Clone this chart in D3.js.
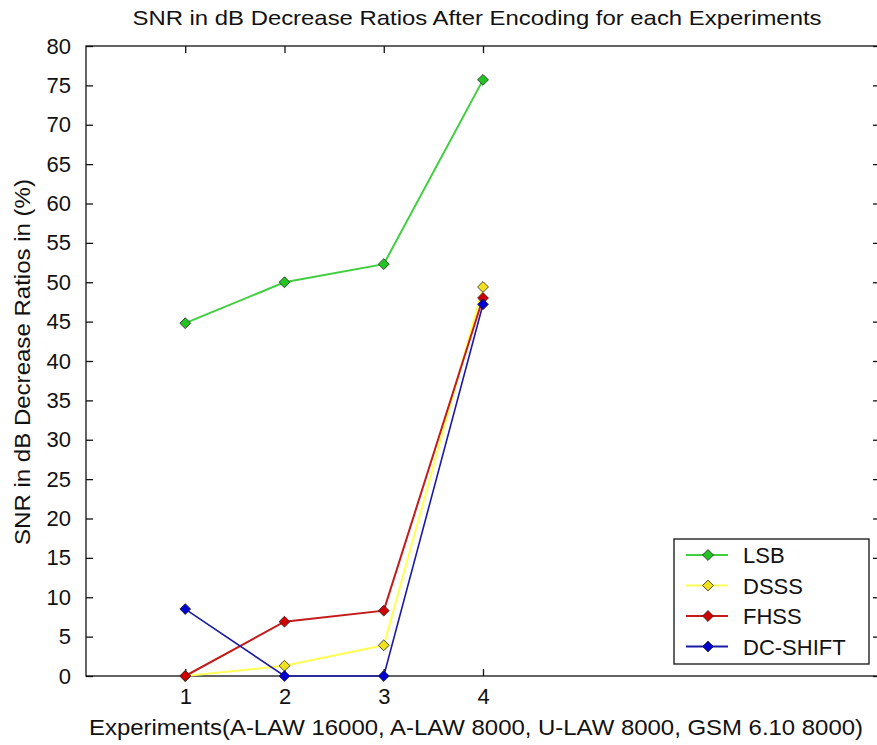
<!DOCTYPE html>
<html>
<head>
<meta charset="utf-8">
<script src="https://cdn.jsdelivr.net/npm/d3@7"></script>
<style>
    body { margin: 0; background: #fff; }
    text { font-family: "Liberation Sans", Arial, sans-serif; fill: #111; }
</style>
</head>
<body>
<script>
// chart data
var experiments = [1, 2, 3, 4];
var lsb = [44.8, 50.0, 52.3, 75.7];
var dsss = [0, 1.3, 3.9, 49.4];
var fhss = [0, 6.9, 8.3, 48.0];
var dcShift = [8.5, 0, 0, 47.2];
var seriesNames = ["LSB", "DSSS", "FHSS", "DC-SHIFT"];
var yTicks = [0, 5, 10, 15, 20, 25, 30, 35, 40, 45, 50, 55, 60, 65, 70, 75, 80];
var xTicks = [1, 2, 3, 4];

(function(){

    var width = 877,
        height = 745;

    //line and marker colours per series
    var lineColors = ["#3fcf3f", "#ffff55", "#c41a1a", "#1a1aa8"];
    var markerColors = ["#22c322", "#f2e21e", "#d00000", "#0000d0"];
    var seriesData = [lsb, dsss, fhss, dcShift];

    var svg = d3.select("body")
        .append("svg")
        .attr("width", width)
        .attr("height", height);

    //plot box: x runs 0..8 though only 1..4 are ticked
    var x = d3.scaleLinear().domain([0, 8]).range([86, 880]);
    var y = d3.scaleLinear().domain([0, 80]).range([676, 46]);

    //frame
    svg.append("rect")
        .attr("x", x(0))
        .attr("y", y(80))
        .attr("width", x(8) - x(0))
        .attr("height", y(0) - y(80))
        .attr("fill", "#fff")
        .attr("stroke", "#111")
        .attr("stroke-width", 1.3);

    //inward ticks on all sides
    var tickLen = 7;
    var left = d3.axisLeft(y).tickValues(yTicks).tickSizeInner(-tickLen).tickSizeOuter(0).tickPadding(tickLen + 8);
    var right = d3.axisRight(y).tickValues(yTicks).tickSizeInner(-tickLen).tickSizeOuter(0).tickFormat("");
    var bottom = d3.axisBottom(x).tickValues(xTicks).tickSizeInner(-tickLen).tickSizeOuter(0).tickPadding(tickLen + 5);
    var top = d3.axisTop(x).tickValues(xTicks).tickSizeInner(-tickLen).tickSizeOuter(0).tickFormat("");

    function styleAxis(g){
        g.select(".domain").remove();
        g.selectAll(".tick line").attr("stroke", "#111").attr("stroke-width", 1.3);
        g.selectAll(".tick text")
            .attr("font-size", 22)
            .attr("font-family", "Liberation Sans, Arial, sans-serif")
            .attr("fill", "#111");
    }

    svg.append("g").attr("transform", "translate(" + x(0) + ",0)").call(left).call(styleAxis);
    svg.append("g").attr("transform", "translate(" + x(8) + ",0)").call(right).call(styleAxis);
    svg.append("g").attr("transform", "translate(0," + y(0) + ")").call(bottom).call(styleAxis);
    svg.append("g").attr("transform", "translate(0," + y(80) + ")").call(top).call(styleAxis);

    //title and axis labels
    svg.append("text")
        .attr("x", 477)
        .attr("y", 25)
        .attr("text-anchor", "middle")
        .attr("font-size", 21)
        .attr("textLength", 689)
        .attr("lengthAdjust", "spacingAndGlyphs")
        .text("SNR in dB Decrease Ratios After Encoding for each Experiments");

    svg.append("text")
        .attr("x", 476)
        .attr("y", 735)
        .attr("text-anchor", "middle")
        .attr("font-size", 22)
        .attr("textLength", 774)
        .attr("lengthAdjust", "spacingAndGlyphs")
        .text("Experiments(A-LAW 16000, A-LAW 8000, U-LAW 8000, GSM 6.10 8000)");

    svg.append("text")
        .attr("transform", "translate(30,362) rotate(-90)")
        .attr("text-anchor", "middle")
        .attr("font-size", 22)
        .attr("textLength", 366)
        .attr("lengthAdjust", "spacingAndGlyphs")
        .text("SNR in dB Decrease Ratios in (%)");

    //diamond marker
    var diamond = d3.symbol().type(d3.symbolDiamond2).size(75);

    var line = d3.line()
        .x(function(d, i){ return x(experiments[i]); })
        .y(function(d){ return y(d); });

    seriesData.forEach(function(vals, s){
        svg.append("path")
            .attr("d", line(vals))
            .attr("fill", "none")
            .attr("stroke", lineColors[s])
            .attr("stroke-width", s == 3 ? 1.6 : 2);

        svg.selectAll(".m" + s)
            .data(vals)
            .enter()
            .append("path")
            .attr("class", "m" + s)
            .attr("d", diamond)
            .attr("transform", function(d, i){
                return "translate(" + x(experiments[i]) + "," + y(d) + ")";
            })
            .attr("fill", markerColors[s])
            .attr("stroke", "#222")
            .attr("stroke-width", 0.8);
    });

    //legend
    var legend = svg.append("g");
    legend.append("rect")
        .attr("x", 674)
        .attr("y", 539)
        .attr("width", 195)
        .attr("height", 125)
        .attr("fill", "#fff")
        .attr("stroke", "#111")
        .attr("stroke-width", 1.3);

    var rows = legend.selectAll(".row")
        .data(seriesNames)
        .enter()
        .append("g")
        .attr("class", "row")
        .attr("transform", function(d, i){ return "translate(0," + (555 + i * 30.5) + ")"; });

    rows.append("line")
        .attr("x1", 686)
        .attr("x2", 728)
        .attr("stroke", function(d, i){ return lineColors[i]; })
        .attr("stroke-width", 2);

    rows.append("path")
        .attr("d", diamond)
        .attr("transform", "translate(708,0)")
        .attr("fill", function(d, i){ return markerColors[i]; })
        .attr("stroke", "#222")
        .attr("stroke-width", 0.8);

    rows.append("text")
        .attr("x", 743)
        .attr("y", 8)
        .attr("font-size", 22)
        .text(function(d){ return d; });

})();
</script>
</body>
</html>
